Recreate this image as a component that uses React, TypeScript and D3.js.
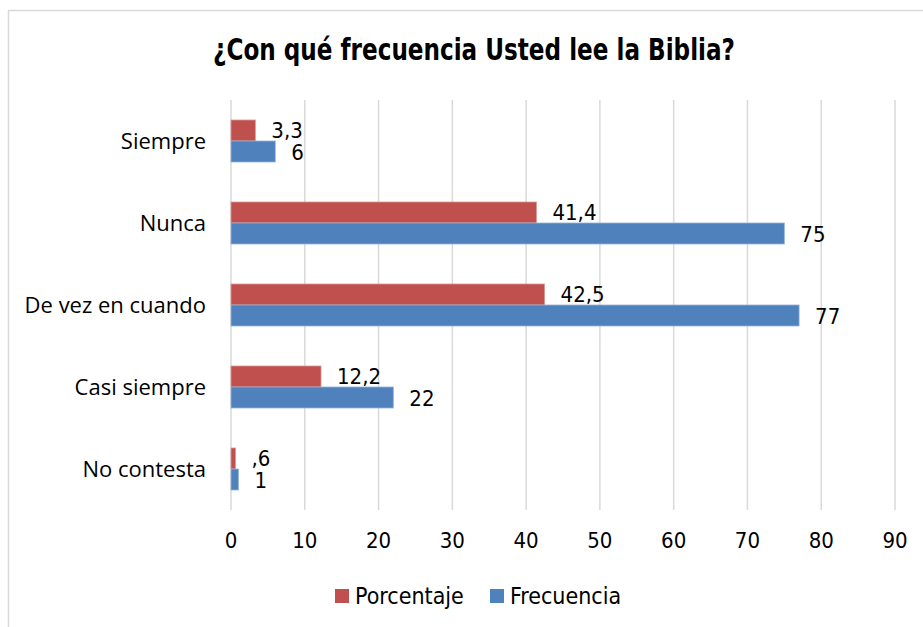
import React from "react";
import * as d3 from "d3";

const categories = ["Siempre", "Nunca", "De vez en cuando", "Casi siempre", "No contesta"];
const seriesNames = ["Porcentaje", "Frecuencia"];
const porcentaje = [3.3, 41.4, 42.5, 12.2, 0.6];
const frecuencia = [6, 75, 77, 22, 1];
const xTicks = [0, 10, 20, 30, 40, 50, 60, 70, 80, 90];
const colors = ["#c0504d", "#4f81bd"];
const title = "¿Con qué frecuencia Usted lee la Biblia?";

const W = 923;
const H = 627;
const condensed = "'Liberation Sans Narrow', 'DejaVu Sans Condensed', 'Arial Narrow', sans-serif";
const regular = "'Open Sans', 'Noto Sans', sans-serif";

function fmt(v: number): string {
  let s = String(v).replace(".", ",");
  if (s.startsWith("0,")) s = s.slice(1);
  return s;
}

export default function App() {
  const x = d3.scaleLinear().domain([0, 90]).range([231, 895]);
  const y = d3.scaleBand<string>().domain(categories).range([100, 510]).padding(0);
  const sub = d3
    .scaleBand<string>()
    .domain(seriesNames)
    .range([0, y.bandwidth()])
    .paddingInner(0)
    .paddingOuter(0.952);
  const data = [porcentaje, frecuencia];

  return (
    <svg
      width={W}
      height={H}
      style={{ position: "fixed", left: 0, top: 0, background: "#fff" }}
    >
      <rect x={0} y={0} width={W} height={H} fill="#fff" />
      <rect x={8.5} y={10.5} width={1200} height={1200} fill="none" stroke="#d9d9d9" strokeWidth={1.5} />
      <text
        x={474}
        y={60}
        textAnchor="middle"
        fontFamily={condensed}
        fontWeight="bold"
        fontSize={30}
        textLength={522}
        lengthAdjust="spacingAndGlyphs"
        fill="#000"
      >
        {title}
      </text>
      {xTicks.map((t) => (
        <line
          key={"g" + t}
          x1={x(t)}
          x2={x(t)}
          y1={100}
          y2={510}
          stroke="#d9d9d9"
          strokeWidth={1.5}
        />
      ))}
      {xTicks.map((t) => (
        <text
          key={"t" + t}
          x={x(t)}
          y={548}
          textAnchor="middle"
          fontFamily={condensed}
          fontSize={22}
          fill="#000"
        >
          {t}
        </text>
      ))}
      {categories.map((c) => (
        <text
          key={"c" + c}
          x={206}
          y={(y(c) as number) + y.bandwidth() / 2 + 8}
          textAnchor="end"
          fontFamily={regular}
          fontSize={22}
          fill="#000"
        >
          {c}
        </text>
      ))}
      {seriesNames.map((s, si) =>
        categories.map((c, ci) => {
          const v = data[si][ci];
          const by = (y(c) as number) + (sub(s) as number);
          const bh = sub.bandwidth();
          return (
            <g key={s + c}>
              <rect
                x={x(0)}
                y={by}
                width={x(v) - x(0)}
                height={bh}
                fill={colors[si]}
                stroke={si === 0 ? "#d99694" : "#95b3d7"}
                strokeWidth={0.8}
              />
              <text
                x={x(v) + 16}
                y={by + bh / 2 + 8}
                fontFamily={condensed}
                fontSize={22}
                fill="#000"
              >
                {fmt(v)}
              </text>
            </g>
          );
        })
      )}
      {seriesNames.map((s, si) => {
        const lx = si === 0 ? 335 : 490;
        return (
          <g key={"l" + s}>
            <rect x={lx} y={589} width={14} height={14} fill={colors[si]} />
            <text x={lx + 20} y={604} fontFamily={condensed} fontSize={23} fill="#000">
              {s}
            </text>
          </g>
        );
      })}
    </svg>
  );
}
